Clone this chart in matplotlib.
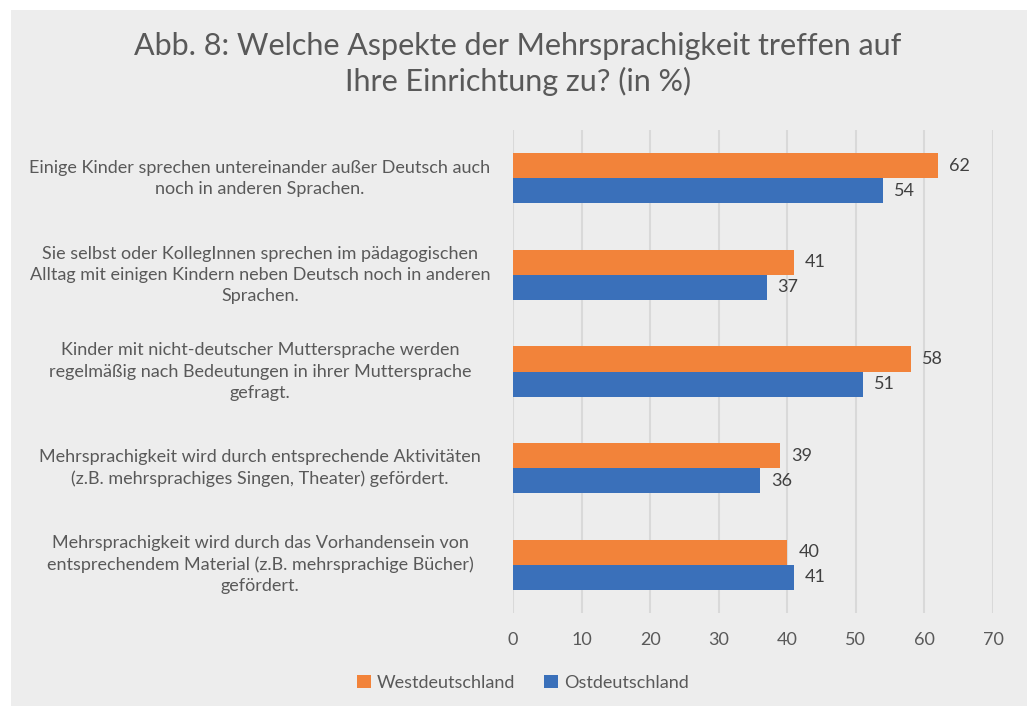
import matplotlib
matplotlib.use("Agg")
import matplotlib.pyplot as plt
from matplotlib.patches import Rectangle
import numpy as np

# data
categories = [
    "Einige Kinder sprechen untereinander außer Deutsch auch\nnoch in anderen Sprachen.",
    "Sie selbst oder KollegInnen sprechen im pädagogischen\nAlltag mit einigen Kindern neben Deutsch noch in anderen\nSprachen.",
    "Kinder mit nicht-deutscher Muttersprache werden\nregelmäßig nach Bedeutungen in ihrer Muttersprache\ngefragt.",
    "Mehrsprachigkeit wird durch entsprechende Aktivitäten\n(z.B. mehrsprachiges Singen, Theater) gefördert.",
    "Mehrsprachigkeit wird durch das Vorhandensein von\nentsprechendem Material (z.B. mehrsprachige Bücher)\ngefördert.",
]
west = [62, 41, 58, 39, 40]
ost = [54, 37, 51, 36, 41]
series_names = ["Westdeutschland", "Ostdeutschland"]
title = "Abb. 8: Welche Aspekte der Mehrsprachigkeit treffen auf\nIhre Einrichtung zu? (in %)"

ORANGE = "#F2833A"
BLUE = "#3A70BA"
BG = "#EDEDED"
TXT = "#595959"
GRID = "#D9D9D9"

plt.rcParams['font.family'] = ['Lato', 'DejaVu Sans']

fig = plt.figure(figsize=(10.32, 7.06), dpi=100, facecolor="white")
fig.patches.append(Rectangle((11 / 1032, 0), (1027 - 11) / 1032, (706 - 10) / 706,
                             transform=fig.transFigure, facecolor=BG, edgecolor="none", zorder=-10))

W, H = 1032, 706
left, right, top, bottom = 513, 993, 130, 613
ax = fig.add_axes([left / W, 1 - bottom / H, (right - left) / W, (bottom - top) / H])
ax.set_facecolor("none")

y = np.arange(len(categories)) + 0.5
bh = 0.26
ax.barh(y - bh / 2, west, height=bh, color=ORANGE, label=series_names[0], zorder=3)
ax.barh(y + bh / 2, ost, height=bh, color=BLUE, label=series_names[1], zorder=3)

for yi, v in zip(y - bh / 2, west):
    ax.text(v + 1.6, yi, str(v), va="center", ha="left", fontsize=13, color="#404040")
for yi, v in zip(y + bh / 2, ost):
    ax.text(v + 1.6, yi, str(v), va="center", ha="left", fontsize=13, color="#404040")

ax.set_xlim(0, 70)
ax.set_ylim(len(categories), 0)
ax.set_xticks(range(0, 71, 10))
ax.xaxis.grid(True, color=GRID, linewidth=1.5, zorder=0)
ax.set_yticks(y)
ax.set_yticklabels([])
for s in ax.spines.values():
    s.set_visible(False)
ax.tick_params(axis="both", length=0)
ax.tick_params(axis="x", labelsize=13, labelcolor=TXT, pad=14)

for yi, c in zip(y, categories):
    fig.text(260 / W, 1 - (top + yi / len(categories) * (bottom - top)) / H, c,
             ha="center", va="center", fontsize=13, color=TXT, linespacing=1.4)

fig.text(518 / W, 1 - 64 / H, title, ha="center", va="center", fontsize=22,
         color=TXT, linespacing=1.27)

fig.legend(loc="center", bbox_to_anchor=(523 / W, 1 - 683 / H), ncol=2, frameon=False,
           fontsize=13, labelcolor=TXT, handlelength=0.75, handleheight=0.75,
           handletextpad=0.35, columnspacing=1.6)

fig.savefig("out.png", dpi=100, facecolor="white")
